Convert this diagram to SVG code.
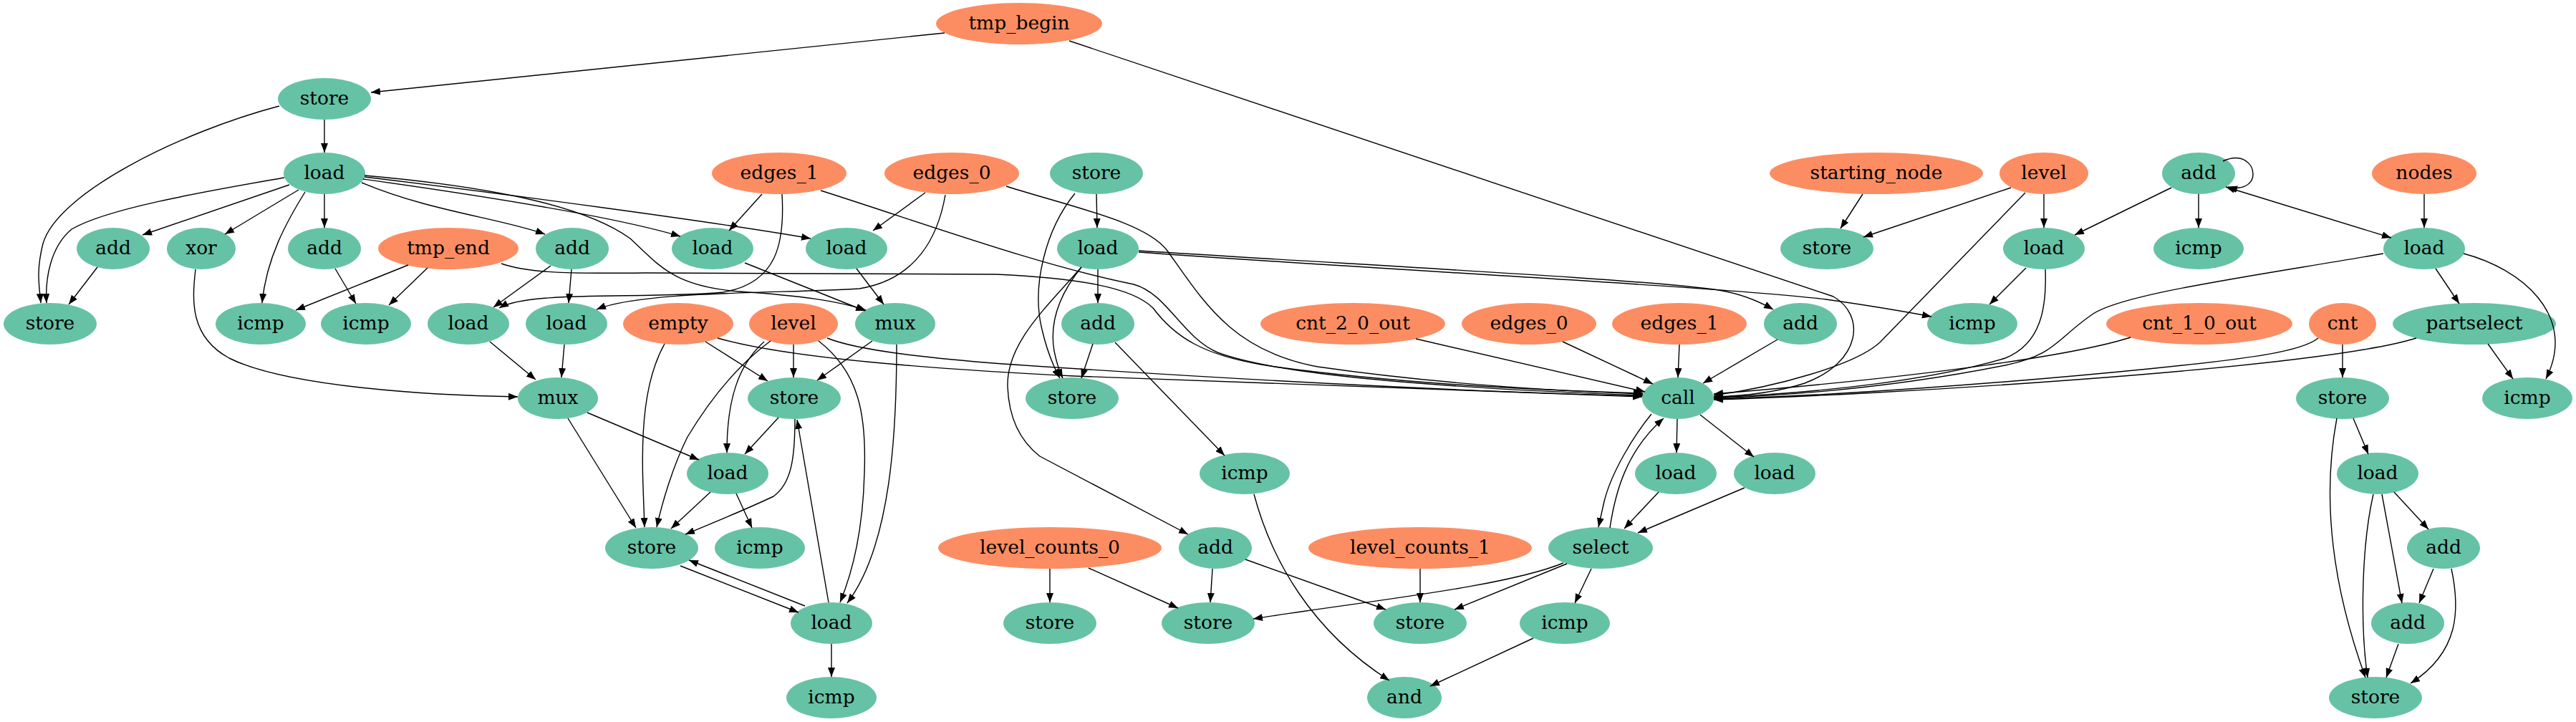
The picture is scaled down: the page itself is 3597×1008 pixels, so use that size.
<svg xmlns="http://www.w3.org/2000/svg" width="3597" height="1008" viewBox="0 0 3597 1008">
<style>
.g ellipse{fill:#66c2a5}
.o ellipse{fill:#fc8d62}
text{font-family:"DejaVu Serif","Liberation Serif",serif;font-size:26.5px;fill:#000;text-anchor:middle}
#connectors path{fill:none;stroke:#000;stroke-width:1.4;marker-end:url(#arr)}
#connectors path.both{marker-start:url(#arr)}
</style>
<defs>
<marker id="arr" viewBox="0 0 13 10" refX="13" refY="5" markerWidth="13" markerHeight="10" markerUnits="userSpaceOnUse" orient="auto-start-reverse"><path d="M0,0 L13,5 L0,10 z" fill="#000"/></marker>
</defs>
<rect width="3597" height="1008" fill="#fff"/>
<g id="nodes">
<g id="tmp_begin" class="o"><ellipse cx="1423" cy="33" rx="116" ry="29"/><text x="1423" y="41">tmp_begin</text></g>
<g id="store1" class="g"><ellipse cx="453" cy="138" rx="65" ry="29"/><text x="453" y="146">store</text></g>
<g id="load2" class="g"><ellipse cx="453" cy="242" rx="57" ry="29"/><text x="453" y="250">load</text></g>
<g id="edges1a" class="o"><ellipse cx="1088" cy="242" rx="94" ry="29"/><text x="1088" y="250">edges_1</text></g>
<g id="edges0a" class="o"><ellipse cx="1329" cy="242" rx="94" ry="29"/><text x="1329" y="250">edges_0</text></g>
<g id="store2" class="g"><ellipse cx="1531" cy="242" rx="65" ry="29"/><text x="1531" y="250">store</text></g>
<g id="starting_node" class="o"><ellipse cx="2620" cy="242" rx="149" ry="29"/><text x="2620" y="250">starting_node</text></g>
<g id="levela" class="o"><ellipse cx="2854" cy="242" rx="62" ry="29"/><text x="2854" y="250">level</text></g>
<g id="addloop" class="g"><ellipse cx="3070" cy="242" rx="51" ry="29"/><text x="3070" y="250">add</text></g>
<g id="nodes_in" class="o"><ellipse cx="3385" cy="242" rx="73" ry="29"/><text x="3385" y="250">nodes</text></g>
<g id="add3a" class="g"><ellipse cx="158" cy="347" rx="51" ry="29"/><text x="158" y="355">add</text></g>
<g id="xor" class="g"><ellipse cx="281" cy="347" rx="48" ry="29"/><text x="281" y="355">xor</text></g>
<g id="add3b" class="g"><ellipse cx="453" cy="347" rx="51" ry="29"/><text x="453" y="355">add</text></g>
<g id="tmp_end" class="o"><ellipse cx="626" cy="347" rx="98" ry="29"/><text x="626" y="355">tmp_end</text></g>
<g id="add3c" class="g"><ellipse cx="799" cy="347" rx="51" ry="29"/><text x="799" y="355">add</text></g>
<g id="load3a" class="g"><ellipse cx="995" cy="347" rx="57" ry="29"/><text x="995" y="355">load</text></g>
<g id="load3b" class="g"><ellipse cx="1182" cy="347" rx="57" ry="29"/><text x="1182" y="355">load</text></g>
<g id="load3c" class="g"><ellipse cx="1533" cy="347" rx="57" ry="29"/><text x="1533" y="355">load</text></g>
<g id="store3" class="g"><ellipse cx="2551" cy="347" rx="65" ry="29"/><text x="2551" y="355">store</text></g>
<g id="load3d" class="g"><ellipse cx="2854" cy="347" rx="57" ry="29"/><text x="2854" y="355">load</text></g>
<g id="icmp3" class="g"><ellipse cx="3070" cy="347" rx="63" ry="29"/><text x="3070" y="355">icmp</text></g>
<g id="load3e" class="g"><ellipse cx="3385" cy="347" rx="57" ry="29"/><text x="3385" y="355">load</text></g>
<g id="store4" class="g"><ellipse cx="70" cy="452" rx="65" ry="29"/><text x="70" y="460">store</text></g>
<g id="icmp4a" class="g"><ellipse cx="364" cy="452" rx="63" ry="29"/><text x="364" y="460">icmp</text></g>
<g id="icmp4b" class="g"><ellipse cx="511" cy="452" rx="63" ry="29"/><text x="511" y="460">icmp</text></g>
<g id="load4a" class="g"><ellipse cx="654" cy="452" rx="57" ry="29"/><text x="654" y="460">load</text></g>
<g id="load4b" class="g"><ellipse cx="791" cy="452" rx="57" ry="29"/><text x="791" y="460">load</text></g>
<g id="empty" class="o"><ellipse cx="947" cy="452" rx="77" ry="29"/><text x="947" y="460">empty</text></g>
<g id="levelb" class="o"><ellipse cx="1108" cy="452" rx="62" ry="29"/><text x="1108" y="460">level</text></g>
<g id="mux4" class="g"><ellipse cx="1250" cy="452" rx="56" ry="29"/><text x="1250" y="460">mux</text></g>
<g id="add4a" class="g"><ellipse cx="1533" cy="452" rx="51" ry="29"/><text x="1533" y="460">add</text></g>
<g id="cnt2" class="o"><ellipse cx="1889" cy="452" rx="129" ry="29"/><text x="1889" y="460">cnt_2_0_out</text></g>
<g id="edges0b" class="o"><ellipse cx="2135" cy="452" rx="94" ry="29"/><text x="2135" y="460">edges_0</text></g>
<g id="edges1b" class="o"><ellipse cx="2345" cy="452" rx="94" ry="29"/><text x="2345" y="460">edges_1</text></g>
<g id="add4b" class="g"><ellipse cx="2514" cy="452" rx="51" ry="29"/><text x="2514" y="460">add</text></g>
<g id="icmp4c" class="g"><ellipse cx="2754" cy="452" rx="63" ry="29"/><text x="2754" y="460">icmp</text></g>
<g id="cnt1" class="o"><ellipse cx="3071" cy="452" rx="130" ry="29"/><text x="3071" y="460">cnt_1_0_out</text></g>
<g id="cnt" class="o"><ellipse cx="3271" cy="452" rx="47" ry="29"/><text x="3271" y="460">cnt</text></g>
<g id="partselect" class="g"><ellipse cx="3455" cy="452" rx="114" ry="29"/><text x="3455" y="460">partselect</text></g>
<g id="mux5" class="g"><ellipse cx="779" cy="556" rx="56" ry="29"/><text x="779" y="564">mux</text></g>
<g id="store5a" class="g"><ellipse cx="1109" cy="556" rx="65" ry="29"/><text x="1109" y="564">store</text></g>
<g id="store5b" class="g"><ellipse cx="1497" cy="556" rx="65" ry="29"/><text x="1497" y="564">store</text></g>
<g id="call" class="g"><ellipse cx="2343" cy="556" rx="50" ry="29"/><text x="2343" y="564">call</text></g>
<g id="store5c" class="g"><ellipse cx="3271" cy="556" rx="65" ry="29"/><text x="3271" y="564">store</text></g>
<g id="icmp5" class="g"><ellipse cx="3529" cy="556" rx="63" ry="29"/><text x="3529" y="564">icmp</text></g>
<g id="load6a" class="g"><ellipse cx="1016" cy="661" rx="57" ry="29"/><text x="1016" y="669">load</text></g>
<g id="icmp6" class="g"><ellipse cx="1738" cy="661" rx="63" ry="29"/><text x="1738" y="669">icmp</text></g>
<g id="load6b" class="g"><ellipse cx="2340" cy="661" rx="57" ry="29"/><text x="2340" y="669">load</text></g>
<g id="load6c" class="g"><ellipse cx="2478" cy="661" rx="57" ry="29"/><text x="2478" y="669">load</text></g>
<g id="load6d" class="g"><ellipse cx="3320" cy="661" rx="57" ry="29"/><text x="3320" y="669">load</text></g>
<g id="store7" class="g"><ellipse cx="910" cy="765" rx="65" ry="29"/><text x="910" y="773">store</text></g>
<g id="icmp7" class="g"><ellipse cx="1061" cy="765" rx="63" ry="29"/><text x="1061" y="773">icmp</text></g>
<g id="lc0" class="o"><ellipse cx="1466" cy="765" rx="156" ry="29"/><text x="1466" y="773">level_counts_0</text></g>
<g id="add7" class="g"><ellipse cx="1697" cy="765" rx="51" ry="29"/><text x="1697" y="773">add</text></g>
<g id="lc1" class="o"><ellipse cx="1983" cy="765" rx="156" ry="29"/><text x="1983" y="773">level_counts_1</text></g>
<g id="select" class="g"><ellipse cx="2235" cy="765" rx="73" ry="29"/><text x="2235" y="773">select</text></g>
<g id="add7b" class="g"><ellipse cx="3412" cy="765" rx="51" ry="29"/><text x="3412" y="773">add</text></g>
<g id="load8" class="g"><ellipse cx="1161" cy="870" rx="57" ry="29"/><text x="1161" y="878">load</text></g>
<g id="store8a" class="g"><ellipse cx="1466" cy="870" rx="65" ry="29"/><text x="1466" y="878">store</text></g>
<g id="store8b" class="g"><ellipse cx="1687" cy="870" rx="65" ry="29"/><text x="1687" y="878">store</text></g>
<g id="store8c" class="g"><ellipse cx="1983" cy="870" rx="65" ry="29"/><text x="1983" y="878">store</text></g>
<g id="icmp8" class="g"><ellipse cx="2185" cy="870" rx="63" ry="29"/><text x="2185" y="878">icmp</text></g>
<g id="add8" class="g"><ellipse cx="3362" cy="870" rx="51" ry="29"/><text x="3362" y="878">add</text></g>
<g id="icmp9" class="g"><ellipse cx="1161" cy="974" rx="63" ry="29"/><text x="1161" y="982">icmp</text></g>
<g id="and" class="g"><ellipse cx="1961" cy="974" rx="52" ry="29"/><text x="1961" y="982">and</text></g>
<g id="store9" class="g"><ellipse cx="3317" cy="974" rx="65" ry="29"/><text x="3317" y="982">store</text></g>
</g>
<g id="connectors">
<path d="M1319,46 L518,129"/>
<path d="M1493,57 L2560,414 C2605,440 2600,505 2520,535 C2480,548 2430,553 2393,554"/>
<path d="M453,167 L453,213"/>
<path d="M390,148 C250,185 80,270 60,340 C50,380 55,400 57,423"/>
<path d="M397,248 C300,265 150,290 100,320 C70,345 63,390 65,423"/>
<path d="M404,258 L199,328"/>
<path d="M417,265 L314,327"/>
<path d="M426,268 C400,310 372,360 366,423"/>
<path d="M453,271 L453,318"/>
<path d="M505,255 C600,295 700,305 761,327"/>
<path d="M507,250 C650,270 850,300 950,330"/>
<path d="M509,245 C700,262 820,290 880,333 C920,370 940,400 1033,407 C1120,413 1170,420 1209,433"/>
<path d="M509,247 C700,270 1000,310 1132,333"/>
<path d="M1064,271 L1018,322"/>
<path d="M1092,271 C1096,340 1085,395 1010,408 C900,418 740,405 697,430"/>
<path d="M1146,266 C1300,315 1450,370 1583,397 C1630,410 1650,470 1700,492 C1800,530 2100,545 2294,552"/>
<path d="M1292,269 L1219,322"/>
<path d="M1320,272 C1310,330 1280,390 1200,403 C1100,410 900,405 833,432"/>
<path d="M1405,260 C1500,290 1600,310 1630,350 C1680,420 1720,490 1840,512 C2000,535 2150,545 2294,550"/>
<path d="M700,368 C740,382 800,382 900,381 L1391,383 C1500,388 1580,400 1610,430 C1640,470 1680,498 1780,512 C1950,535 2150,545 2294,549"/>
<path d="M1531,271 L1532,318"/>
<path d="M1501,270 C1460,320 1440,400 1455,460 C1462,490 1470,510 1480,528"/>
<path d="M1510,373 C1480,410 1465,450 1472,490 C1476,510 1480,520 1484,528"/>
<path d="M1526,480 L1510,528"/>
<path d="M1533,376 L1533,423"/>
<path d="M1557,478 L1710,636"/>
<path d="M1510,373 C1460,430 1405,480 1407,540 C1409,590 1430,620 1452,637 L1659,746"/>
<path d="M1590,350 C1900,370 2300,390 2400,405 C2430,410 2455,420 2476,432"/>
<path d="M1590,352 C1900,375 2400,400 2550,418 C2620,428 2660,435 2697,442"/>
<path d="M2182,477 L2308,536"/>
<path d="M1977,473 L2297,547"/>
<path d="M2345,481 L2343,527"/>
<path d="M2482,474 L2378,535"/>
<path d="M1002,472 C1100,500 1300,515 1500,525 C1900,540 2150,550 2293,554"/>
<path d="M1155,472 C1200,490 1300,500 1400,508 C1800,535 2100,548 2293,553"/>
<path d="M2828,269 L2625,478 C2590,510 2480,540 2393,552"/>
<path d="M2856,376 C2858,430 2850,480 2800,500 C2700,530 2550,548 2393,555"/>
<path d="M3328,354 C3150,385 2960,410 2920,440 C2870,475 2870,495 2800,510 C2650,540 2500,552 2393,556"/>
<path d="M2975,471 C2900,495 2700,525 2393,550"/>
<path d="M3237,472 C3215,490 3150,500 3000,515 C2800,535 2550,553 2393,557"/>
<path d="M3374,472 C3300,495 3100,515 2900,530 C2700,545 2500,555 2393,558"/>
<path d="M2306,578 C2280,610 2250,660 2240,700 L2232,736"/>
<path d="M2248,737 C2255,690 2270,630 2323,584"/>
<path d="M2342,585 L2341,632"/>
<path d="M2374,579 L2449,638"/>
<path d="M2316,687 L2268,738"/>
<path d="M2436,681 L2287,744"/>
<path d="M2183,786 C2100,820 1900,840 1750,864"/>
<path d="M2188,787 L2031,851"/>
<path d="M2222,794 L2199,842"/>
<path d="M2141,891 L1997,958"/>
<path d="M1751,690 C1775,780 1830,880 1940,950"/>
<path d="M1466,794 L1466,841"/>
<path d="M1520,793 L1645,849"/>
<path d="M1693,794 L1690,841"/>
<path d="M1739,781 L1935,851"/>
<path d="M1983,794 L1983,841"/>
<path d="M2601,271 L2570,319"/>
<path d="M2808,262 L2602,331"/>
<path d="M2854,271 L2854,318"/>
<path d="M3032,262 L2897,328"/>
<path d="M3070,271 L3070,318"/>
<path class="both" d="M3108,261 L3339,332"/>
<path d="M3104,225 C3130,213 3146,228 3146,243 C3146,258 3130,266 3111,261"/>
<path d="M3385,271 L3385,318"/>
<path d="M2829,374 L2778,425"/>
<path d="M3401,375 L3434,424"/>
<path d="M3440,354 C3520,375 3600,440 3555,529"/>
<path d="M3474,480 L3509,529"/>
<path d="M3271,481 L3271,527"/>
<path d="M3286,584 L3307,634"/>
<path d="M3263,584 C3245,680 3250,800 3303,946"/>
<path d="M3314,690 C3298,760 3295,870 3306,946"/>
<path d="M3326,690 L3354,842"/>
<path d="M3343,687 L3391,739"/>
<path d="M3398,794 L3378,842"/>
<path d="M3423,794 C3435,850 3435,910 3366,954"/>
<path d="M3349,899 L3332,946"/>
<path d="M136,373 L96,425"/>
<path d="M570,370 L413,433"/>
<path d="M597,374 L543,426"/>
<path d="M468,375 L497,424"/>
<path d="M769,371 L689,429"/>
<path d="M798,376 L794,423"/>
<path d="M273,376 C268,420 265,470 320,500 C400,540 600,552 723,554"/>
<path d="M684,477 L748,530"/>
<path d="M788,481 L784,527"/>
<path d="M1040,367 L1208,434"/>
<path d="M1196,375 L1234,425"/>
<path d="M1218,476 L1141,531"/>
<path d="M1252,481 C1252,600 1245,760 1183,842"/>
<path d="M1108,481 L1108,527"/>
<path d="M1067,477 C1030,510 1015,560 1015,632"/>
<path d="M1076,476 C1030,510 990,560 960,610 C940,650 925,700 917,736"/>
<path d="M1143,476 C1200,520 1210,580 1207,660 C1205,740 1190,800 1173,841"/>
<path d="M985,477 L1072,532"/>
<path d="M928,480 C900,530 895,600 898,680 L900,736"/>
<path d="M1087,583 L1040,634"/>
<path d="M1110,585 C1110,640 1105,675 1080,693 C1040,712 1000,728 957,746"/>
<path d="M1157,841 L1113,586"/>
<path d="M992,687 L937,738"/>
<path d="M1028,689 L1050,737"/>
<path d="M950,790 L1115,855"/>
<path d="M1124,846 L962,782"/>
<path d="M1161,899 L1161,945"/>
<path d="M820,576 L976,642"/>
<path d="M793,584 L888,737"/>
</g>
</svg>
